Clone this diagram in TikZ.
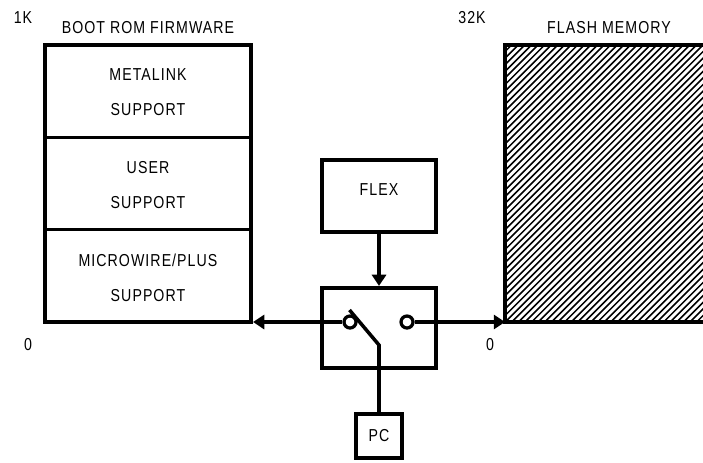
\documentclass[tikz,border=0pt]{standalone}
\usepackage{fontspec}
\setmainfont{Liberation Sans}[FakeStretch=0.82,LetterSpace=6]
\usetikzlibrary{positioning,calc,arrows.meta}
\newdimen\pxu
\pxu=0.025cm
\tikzset{
  lbl/.style={font=\fontsize{12.3}{24.9}\selectfont, inner sep=0pt, align=center},
  cell/.style={draw=black, line width=2.1pt, minimum width=206\pxu, minimum height=92\pxu},
  block/.style={lbl, draw=black, line width=2.9pt},
  wire/.style={draw=black, line width=2.5pt},
  flow/.style={wire, -{Triangle[length=8pt,width=10pt]}},
  pole/.style={circle, draw=black, line width=2.3pt, minimum size=12\pxu, inner sep=0pt}
}
\begin{document}
\begin{tikzpicture}[x=0.025cm, y=-0.025cm]
  \useasboundingbox (0,0) rectangle (703,462);
  % labels over the two memories
  \node[lbl] (romsize) at (23,18) {1K};
  \node[lbl] (romname) at (148,28) {BOOT ROM FIRMWARE};
  \node[lbl] (romzero) at (28,345) {0};
  \node[lbl] (flashsize) at (472,18) {32K};
  \node[lbl] (flashname) at (609,28) {FLASH MEMORY};
  \node[lbl] (flashzero) at (490,345) {0};
  % boot rom
  \node[cell] (metalink) at (148,91) {};
  \node[cell] (user) at (148,183.5) {};
  \node[cell] (microwire) at (148,276) {};
  \node[lbl] (metalinktext) at (metalink.center) [yshift=-1.5\pxu] {METALINK\\SUPPORT};
  \node[lbl] (usertext) at (user.center) [yshift=-1.5\pxu] {USER\\SUPPORT};
  \node[lbl] (microwiretext) at (microwire.center) [yshift=-1.5\pxu] {MICROWIRE/PLUS\\SUPPORT};
  \node[block, minimum width=206\pxu, minimum height=277\pxu] (rom) at (148,183.5) {};
  % flash memory, runs off the page
  \begin{scope}
    \clip (505,45) rectangle (703,322);
    \foreach \h in {0,6.6,...,480}{
      \draw[line width=1.1pt] (505+\h,45) -- (505+\h-280,325);}
  \end{scope}
  \coordinate (flashne) at (703,45);
  \coordinate (flashnw) at (505,45);
  \coordinate (flashsw) at (505,322);
  \coordinate (flashse) at (703,322);
  \draw[line width=2.9pt] (flashne) -- (flashnw) -- (flashsw) -- (flashse);
  % switch
  \node[block, minimum width=114\pxu, minimum height=80\pxu] (switch) at (379,328) {};
  \node[block, minimum width=114\pxu, minimum height=72\pxu, text depth=12\pxu] (flex) at (379,196) {FLEX};
  \node[block, minimum width=46\pxu, minimum height=44\pxu] (pc) at (379,436) {PC};
  \node[pole] (polea) at (350,322) {};
  \node[pole] (poleb) at (407,322) {};
  \coordinate (hinge) at (379,345);
  \coordinate (armtip) at (349.5,310);
  \draw[flow] (polea.west) -- (polea.west -| rom.east);
  \draw[flow] (poleb.east) -- (poleb.east -| flashsw);
  \draw[flow] (flex.south) -- (switch.north);
  \draw[wire] (pc.north) -- (hinge) -- (armtip);
\end{tikzpicture}
\end{document}
